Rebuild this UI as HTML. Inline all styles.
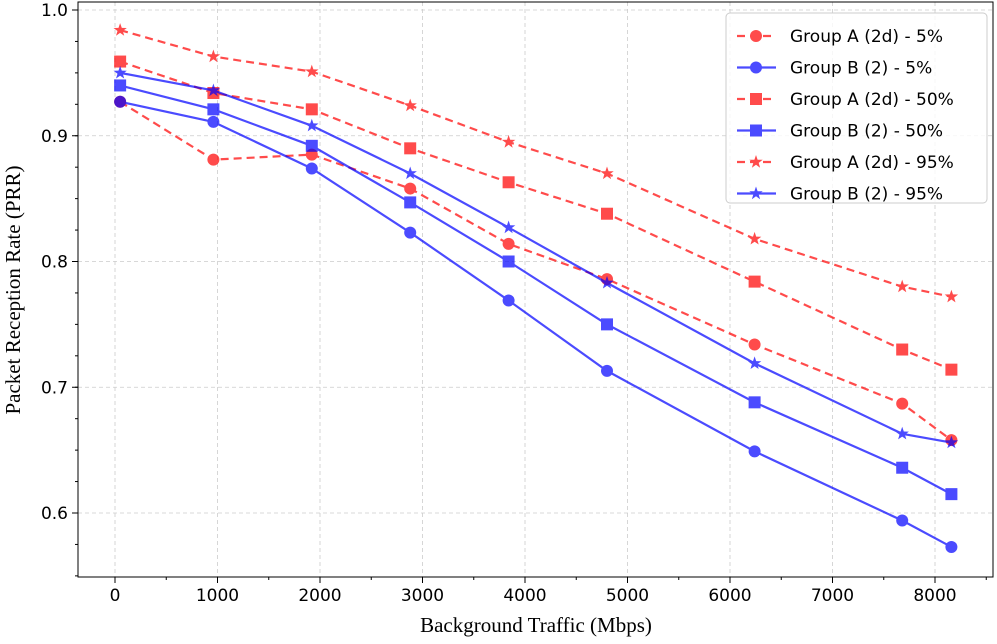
<!DOCTYPE html>
<html><head><meta charset="utf-8"><style>
body{margin:0;background:#fff;}
svg text{font-family:"DejaVu Sans","Liberation Sans",sans-serif;}
</style></head><body>
<svg id="chart" width="997" height="639" xmlns="http://www.w3.org/2000/svg">
<g id="grid"></g>
<g id="series"></g>
<rect x="78" y="2" width="915" height="575" fill="none" stroke="#000" stroke-width="1"/>
<g id="axes"></g>
<text x="536" y="632" text-anchor="middle" style="font-family:'Liberation Serif',serif;font-size:21px">Background Traffic (Mbps)</text>
<text transform="translate(20,290) rotate(-90)" text-anchor="middle" style="font-family:'Liberation Serif',serif;font-size:21px">Packet Reception Rate (PRR)</text>
<g id="legend"></g>
</svg>
<script>
const xVals=[50,960,1920,2880,3840,4800,6240,7680,8160];
const aLow=[0.927,0.881,0.885,0.858,0.814,0.786,0.734,0.687,0.658];
const bLow=[0.927,0.911,0.874,0.823,0.769,0.713,0.649,0.594,0.573];
const aMid=[0.959,0.934,0.921,0.890,0.863,0.838,0.784,0.730,0.714];
const bMid=[0.940,0.921,0.892,0.847,0.800,0.750,0.688,0.636,0.615];
const aHigh=[0.984,0.963,0.951,0.924,0.895,0.870,0.818,0.780,0.772];
const bHigh=[0.950,0.936,0.908,0.870,0.827,0.783,0.719,0.663,0.656];
const xTicks=[0,1000,2000,3000,4000,5000,6000,7000,8000];
const yTicks=[0.6,0.7,0.8,0.9,1.0];
const seriesNames=["Group A (2d) - 5%","Group B (2) - 5%","Group A (2d) - 50%","Group B (2) - 50%","Group A (2d) - 95%","Group B (2) - 95%"];
const NS="http://www.w3.org/2000/svg";
const X=v=>115+v*0.1025;
const Y=v=>10+(1.0-v)*1257.5;
function mk(tag,attrs,parent){const e=document.createElementNS(NS,tag);for(const k in attrs)e.setAttribute(k,attrs[k]);parent.appendChild(e);return e;}
const grid=document.getElementById('grid'),axes=document.getElementById('axes'),ser=document.getElementById('series'),leg=document.getElementById('legend');
xTicks.forEach(t=>{const x=X(t);
 const g=mk('line',{x1:x,x2:x,y1:2,y2:577,stroke:'#ccc','stroke-dasharray':'4,3','stroke-width':0.8},grid);
 
 const tk=mk('line',{x1:x,x2:x,y1:577,y2:583,stroke:'#000'},axes);
 
 const tx=mk('text',{x:x,y:601,'text-anchor':'middle','font-size':'17'},axes);tx.textContent=t;
 });
for(let t=500;t<=8500;t+=1000){const x=X(t);if(x<993){const m=mk('line',{x1:x,x2:x,y1:577,y2:580,stroke:'#000'},axes);
 }}
yTicks.forEach(t=>{const y=Y(t);
 const g=mk('line',{x1:78,x2:993,y1:y,y2:y,stroke:'#ccc','stroke-dasharray':'4,3','stroke-width':0.8},grid);
 
 const tk=mk('line',{x1:72,x2:78,y1:y,y2:y,stroke:'#000'},axes);
 
 const tx=mk('text',{x:68,y:y+6,'text-anchor':'end','font-size':'17'},axes);tx.textContent=t.toFixed(1);
 });
for(let t=0.55;t<1.01;t+=0.025){const y=Y(t);if(y>3&&y<576){const m=mk('line',{x1:75,x2:78,y1:y,y2:y,stroke:'#000'},axes);
 }}
function marker(type,x,y,color,parent){
 let e;
 if(type==='o')e=mk('circle',{cx:x,cy:y,r:6,fill:color},parent);
 else if(type==='s')e=mk('rect',{x:x-6,y:y-6,width:12,height:12,fill:color},parent);
 else{let p=[];for(let i=0;i<10;i++){const r=i%2?2.8:7,a=-Math.PI/2+i*Math.PI/5;p.push((x+r*Math.cos(a)).toFixed(1)+','+(y+r*Math.sin(a)).toFixed(1));}
  e=mk('polygon',{points:p.join(' '),fill:color},parent);}
 return e;}
const defs=[[aLow,'#ff0000','o',true],[bLow,'#0000ff','o',false],[aMid,'#ff0000','s',true],[bMid,'#0000ff','s',false],[aHigh,'#ff0000','*',true],[bHigh,'#0000ff','*',false]];
defs.forEach((d,i)=>{const [vals,c,m,dash]=d;
 const g=mk('g',{opacity:0.7},ser);
 
 const pl=mk('polyline',{points:vals.map((v,j)=>X(xVals[j])+','+Y(v)).join(' '),fill:'none',stroke:c,'stroke-width':2.2,'stroke-dasharray':dash?'8,5':'none'},g);
 
 vals.forEach((v,j)=>{const mm=marker(m,X(xVals[j]),Y(v),c,g);
  });
 const ly=36+i*31.5;
 const lg=mk('g',{},leg);
 const gg=mk('g',{opacity:0.7},lg);
 mk('line',{x1:737,x2:776,y1:ly,y2:ly,stroke:c,'stroke-width':2.2,'stroke-dasharray':dash?'8,5':'none'},gg);
 marker(m,756,ly,c,gg);
 const tx=mk('text',{x:790,y:ly+6,'font-size':'17'},lg);tx.textContent=seriesNames[i];
});
const box=mk('rect',{x:726,y:13,width:261,height:190,rx:4,fill:'#fff','fill-opacity':0.8,stroke:'#ccc'},leg);
leg.insertBefore(box,leg.firstChild);

</script>
</body></html>
